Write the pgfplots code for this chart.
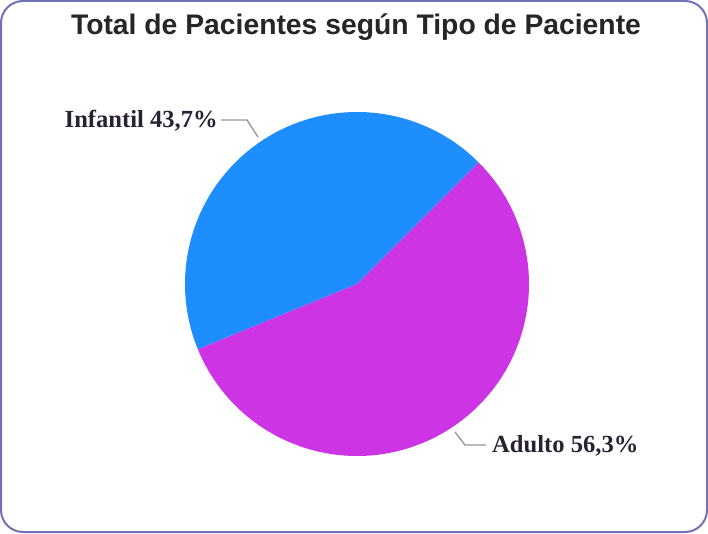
\documentclass[border=0pt]{standalone}
\usepackage{fontspec}
\setmainfont{Liberation Serif}
\newfontfamily\titlefont{Liberation Sans}
\usepackage{pgfplots}
\pgfplotsset{compat=1.18}
\definecolor{infblue}{RGB}{30,142,255}
\definecolor{adupurple}{RGB}{204,52,228}
\definecolor{frame}{RGB}{112,114,184}
\definecolor{lbl}{RGB}{42,34,52}
\definecolor{lead}{RGB}{150,150,150}
\begin{document}
\begin{tikzpicture}
% values (percent)
\def\vInf{43.7}
\def\vAdu{56.3}
\def\startang{45}
\pgfmathsetmacro\midang{\startang+\vInf*3.6}
\pgfmathsetmacro\endang{\midang+\vAdu*3.6}
\begin{axis}[
  at={(0pt,0pt)}, anchor=south west,
  scale only axis, width=708pt, height=533pt,
  xmin=0, xmax=708, ymin=0, ymax=533,
  hide axis, clip=false]
% frame
\draw[frame, line width=2pt, rounded corners=22pt] (axis cs:1,1) rectangle (axis cs:707,532);
% slices
\addplot[draw=none, fill=infblue, domain=\startang:\midang, samples=150, variable=\t]
  ({357+172*cos(\t)},{249+172*sin(\t)}) -- (axis cs:357,249) -- cycle;
\addplot[draw=none, fill=adupurple, domain=\midang:\endang, samples=150, variable=\t]
  ({357+172*cos(\t)},{249+172*sin(\t)}) -- (axis cs:357,249) -- cycle;
% leader lines
\draw[lead, line width=1.3pt] (axis cs:221,413) -- (axis cs:247,413) -- (axis cs:258,396);
\draw[lead, line width=1.3pt] (axis cs:455,101) -- (axis cs:465,88) -- (axis cs:486,88);
% labels
\node[anchor=east, inner sep=0pt, text=lbl, font=\fontsize{24.6}{28}\selectfont\bfseries] at (axis cs:218,412) {Infantil 43,7\%};
\node[anchor=west, inner sep=0pt, text=lbl, font=\fontsize{24.6}{28}\selectfont\bfseries] at (axis cs:492,87) {Adulto 56,3\%};
% title
\node[inner sep=0pt, text=black!85, font=\titlefont\fontsize{28.3}{32}\selectfont\bfseries] at (axis cs:356,506) {Total de Pacientes según Tipo de Paciente};
\end{axis}
\end{tikzpicture}
\end{document}
